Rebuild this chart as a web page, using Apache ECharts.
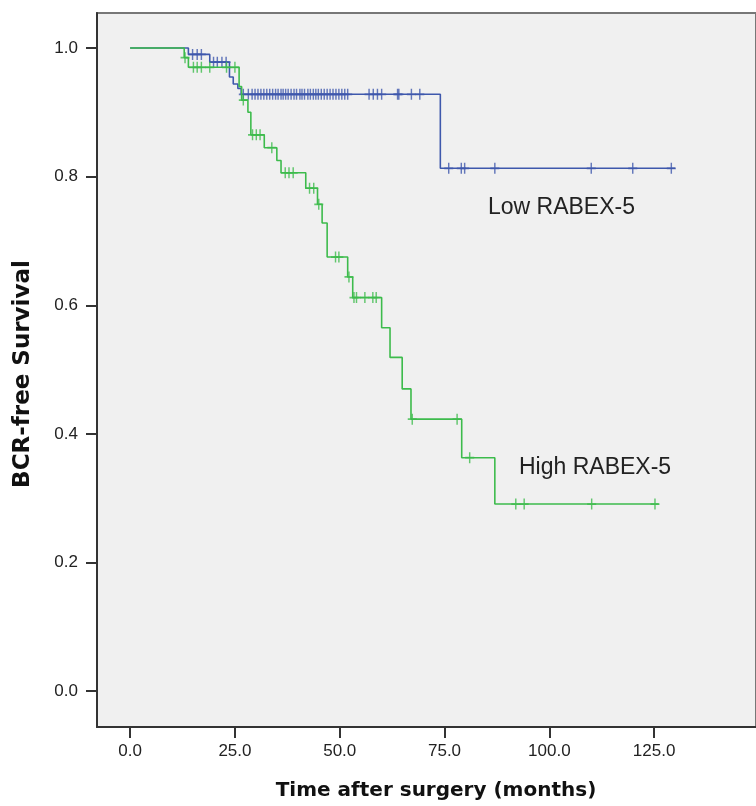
<!DOCTYPE html>
<html><head><meta charset="utf-8">
<script src="https://cdn.jsdelivr.net/npm/echarts@6/dist/echarts.min.js"></script>
<style>html,body{margin:0;padding:0;background:#fff;}#c{width:756px;height:806px;}</style>
</head><body><div id="c"></div>
<script>
// Tick values
const xTicks = [0, 25, 50, 75, 100, 125];
const yTicks = [0, 0.2, 0.4, 0.6, 0.8, 1.0];

// Low RABEX-5 (blue): step points (time, survival after that time)
const lowTimes = [0, 13.9, 19.0, 23.7, 24.6, 25.7, 26.5, 74.0, 130.0];
const lowSurv  = [1.0, 0.990, 0.978, 0.955, 0.944, 0.937, 0.928, 0.813, 0.813];
const lowCensored = [14.9, 16.0, 17.0, 19.9, 20.8, 21.9, 22.9, 27.0, 28.2, 29.1, 29.8, 30.5, 31.2, 31.9,
  32.6, 33.3, 34.0, 34.7, 35.3, 36.0, 36.5, 37.1, 37.7, 38.4, 39.1, 39.7, 40.5, 41.0, 41.6, 42.4, 43.0,
  43.7, 44.3, 44.9, 45.6, 46.3, 47.0, 47.7, 48.4, 49.1, 49.8, 50.5, 51.2, 51.9, 57.0, 58.0, 59.0, 60.0,
  63.8, 64.1, 67.1, 69.1, 76.0, 79.0, 79.8, 87.0, 110.0, 119.9, 129.1];

// High RABEX-5 (green)
const highTimes = [0, 12.9, 13.9, 26.0, 26.6, 28.1, 28.8, 32.0, 35.0, 36.0, 41.9, 44.7, 45.8, 47.0,
  51.9, 53.1, 60.0, 62.0, 64.9, 67.0, 79.1, 87.0, 126.1];
const highSurv = [1.0, 0.985, 0.970, 0.940, 0.919, 0.900, 0.865, 0.845, 0.825, 0.806, 0.782, 0.757, 0.728,
  0.675, 0.644, 0.612, 0.565, 0.519, 0.470, 0.423, 0.363, 0.291, 0.291];
const highCensored = [13.1, 15.1, 16.0, 17.0, 19.0, 23.0, 25.0, 27.0, 29.2, 30.1, 31.0, 33.8, 37.0, 37.9,
  38.9, 42.8, 43.8, 45.0, 49.0, 49.8, 52.2, 53.4, 54.0, 56.0, 57.9, 58.7, 67.3, 78.0, 81.0, 92.0, 94.0,
  110.1, 125.2];

const xTitle = 'Time after surgery (months)';
const yTitle = 'BCR-free Survival';

const BLUE = '#3E58AC';
const GREEN = '#3dbb4c';
const PLUS = 'path://M4.2,0 H5.8 V4.2 H10 V5.8 H5.8 V10 H4.2 V5.8 H0 V4.2 H4.2 Z';

function levelAt(times, surv, t) {
  let v = surv[0];
  for (let i = 0; i < times.length; i++) { if (times[i] <= t) v = surv[i]; }
  return v;
}
const zip = (a, b) => a.map((v, i) => [v, b[i]]);
const censorPts = (c, times, surv) => c.map(t => [t, levelAt(times, surv, t)]);

const chart = echarts.init(document.getElementById('c'), null, {renderer: 'canvas'});
const tickFmt = v => Number(v).toFixed(1);
chart.setOption({
  animation: false,
  backgroundColor: '#ffffff',
  grid: {left: 97, top: 13, width: 676, height: 714, show: true, backgroundColor: '#f0f0f0',
         borderColor: '#777', borderWidth: 2},
  xAxis: {
    type: 'value', min: -7.9, max: 149.3,
    splitLine: {show: false},
    axisLine: {show: true, onZero: false, lineStyle: {color: '#333', width: 2}},
    axisTick: {show: true, customValues: xTicks, length: 11, lineStyle: {color: '#333', width: 2}},
    axisLabel: {customValues: xTicks, formatter: tickFmt, fontSize: 17, color: '#222',
                fontFamily: 'Liberation Sans', margin: 16}
  },
  yAxis: {
    type: 'value', min: -0.0556, max: 1.0544,
    splitLine: {show: false},
    axisLine: {show: true, onZero: false, lineStyle: {color: '#333', width: 2}},
    axisTick: {show: true, customValues: yTicks, length: 11, lineStyle: {color: '#333', width: 2}},
    axisLabel: {customValues: yTicks, formatter: tickFmt, fontSize: 17, color: '#222',
                fontFamily: 'Liberation Sans', margin: 19}
  },
  graphic: [
    {type: 'text', x: 436, y: 791, style: {text: xTitle, fontSize: 20, fontWeight: 'bold',
      fontFamily: 'DejaVu Sans', fill: '#111', align: 'center', verticalAlign: 'middle'}},
    {type: 'text', x: 23, y: 374, rotation: Math.PI / 2, style: {text: yTitle, fontSize: 23,
      fontWeight: 'bold', fontFamily: 'DejaVu Sans', fill: '#111', align: 'center', verticalAlign: 'middle'}},
    {type: 'text', x: 488, y: 208, style: {text: 'Low RABEX-5', fontSize: 23,
      fontFamily: 'Liberation Sans', fill: '#222', verticalAlign: 'middle'}},
    {type: 'text', x: 519, y: 468, style: {text: 'High RABEX-5', fontSize: 23,
      fontFamily: 'Liberation Sans', fill: '#222', verticalAlign: 'middle'}}
  ],
  series: [
    {name: 'Low RABEX-5', type: 'line', step: 'end', data: zip(lowTimes, lowSurv), showSymbol: false,
     lineStyle: {color: BLUE, width: 1.6}, z: 2},
    {name: 'Low censored', type: 'scatter', data: censorPts(lowCensored, lowTimes, lowSurv),
     symbol: PLUS, symbolSize: [9, 11], itemStyle: {color: BLUE}, z: 3},
    {name: 'High RABEX-5', type: 'line', step: 'end', data: zip(highTimes, highSurv), showSymbol: false,
     lineStyle: {color: GREEN, width: 1.6}, z: 4},
    {name: 'High censored', type: 'scatter', data: censorPts(highCensored, highTimes, highSurv),
     symbol: PLUS, symbolSize: [9, 11], itemStyle: {color: GREEN}, z: 5}
  ]
});
</script></body></html>
